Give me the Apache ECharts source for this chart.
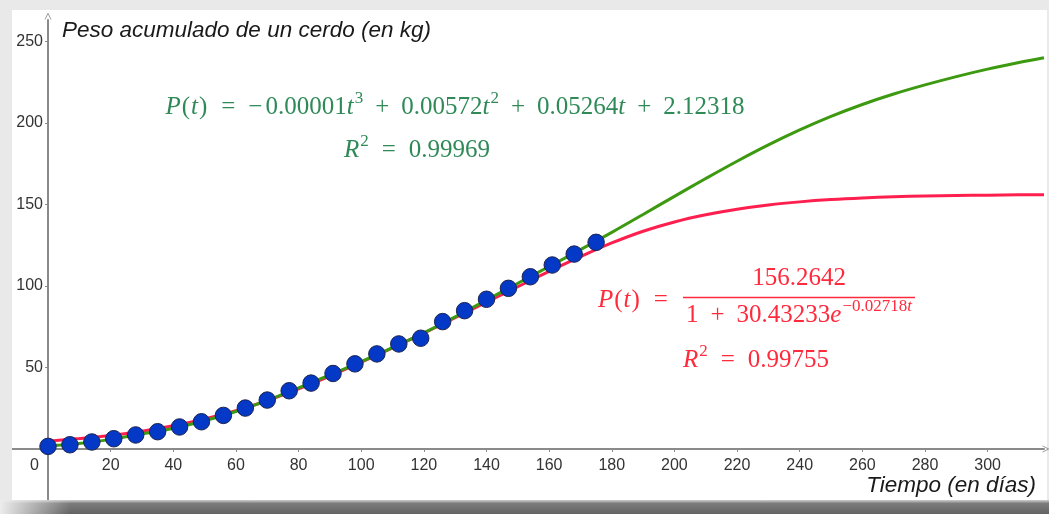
<!DOCTYPE html>
<html>
<head>
<meta charset="utf-8">
<script src="https://cdn.jsdelivr.net/npm/echarts@6/dist/echarts.min.js"></script>
<style>
  html, body { margin: 0; padding: 0; }
  body { width: 1049px; height: 514px; position: relative; overflow: hidden; background: #e9e9e9; }
  #paper { position: absolute; left: 12px; top: 10px; width: 1035px; height: 490px; background: #fff; }
  #shade { position: absolute; left: 0; top: 500px; width: 1049px; height: 14px;
           background: linear-gradient(to bottom, #cfcfcf 0, #7c7c7c 25%, #636363 100%); }
  #shadeFade { position: absolute; left: 0; top: 500px; width: 70px; height: 14px;
               background: linear-gradient(to right, #ececec 0, rgba(236,236,236,0) 100%); }
  #main { position: absolute; left: 0; top: 0; width: 1049px; height: 514px; }
</style>
</head>
<body>
<div id="paper"></div>
<div id="shade"></div>
<div id="shadeFade"></div>
<div id="main"></div>
<script>
// pesos medidos (cada 7 dias)
const days = [0, 7, 14, 21, 28, 35, 42, 49, 56, 63, 70, 77, 84, 91, 98, 105, 112, 119, 126, 133, 140, 147, 154, 161, 168, 175];
const weights = [1.6, 2.6, 4.3, 6.3, 8.6, 10.6, 13.5, 16.7, 20.6, 25.1, 30.0, 35.7, 40.4, 46.3, 52.2, 58.3, 64.4, 67.9, 78.1, 84.8, 91.8, 98.5, 105.6, 112.8, 119.5, 126.7];

// curvas de ajuste
const curveDays = [0, 10, 20, 30, 40, 50, 60, 70, 80, 90, 100, 110, 120, 130, 140, 150, 160, 170, 180, 190, 200, 210, 220, 230, 240, 250, 260, 270, 280, 290, 300, 310, 318];
const cubicFit = [1.9, 3.4, 5.9, 9.2, 12.7, 17.3, 23.0, 29.8, 37.5, 45.4, 53.6, 62.2, 71.2, 81.0, 91.3, 101.6, 111.9, 122.2, 132.8, 143.8, 154.9, 165.8, 176.4, 186.4, 195.6, 203.9, 211.2, 217.6, 223.2, 228.3, 232.9, 236.9, 239.8];
const logisticFit = [4.8, 6.4, 8.3, 10.9, 14.2, 18.4, 23.5, 29.6, 36.8, 44.7, 53.2, 62.0, 71.0, 80.5, 90.0, 99.5, 108.9, 117.9, 126.3, 133.5, 139.2, 143.6, 147.0, 149.6, 151.5, 152.9, 153.9, 154.6, 155.1, 155.4, 155.6, 155.8, 155.9];

const xTicks = [0, 20, 40, 60, 80, 100, 120, 140, 160, 180, 200, 220, 240, 260, 280, 300];
const yTicks = [50, 100, 150, 200, 250];

const axisGray = '#8a8a8a';
const eqGreen = '#2f8a58';
const eqRed = '#ff2a3c';
const chevron = 'path://M0,10 L5,0 L10,10 L8.8,10 L5,2.6 L1.2,10 Z';

function mathRich(color) {
    const base = { fontFamily: 'Liberation Serif', fontSize: 25, fill: color, lineHeight: 34, verticalAlign: 'middle' };
    const sup = { fontFamily: 'Liberation Serif', fontSize: 17, fill: color, lineHeight: 24, verticalAlign: 'top' };
    return {
        n: base,
        i: Object.assign({}, base, { fontStyle: 'italic' }),
        p: Object.assign({}, base, { padding: [0, 1, 0, 1] }),
        m: Object.assign({}, base, { padding: [0, 3, 0, 0] }),
        eq: Object.assign({}, base, { padding: [0, 13, 0, 13] }),
        op: Object.assign({}, base, { padding: [0, 12, 0, 12] }),
        s: Object.assign({}, sup, { padding: [0, 0, 0, 1] }),
        si: Object.assign({}, sup, { fontStyle: 'italic' })
    };
}

const chart = echarts.init(document.getElementById('main'), null, { renderer: 'canvas' });

// el eje x empieza en x=12 y el eje y baja hasta y=500 en el original
const x0 = 48, y0 = 449;

const option = {
    animation: false,
    grid: { left: x0, right: 5, top: 20, bottom: 514 - y0, containLabel: false, outerBoundsMode: 'none' },
    xAxis: {
        type: 'value',
        min: 0,
        max: 318,
        splitLine: { show: false },
        axisLine: {
            lineStyle: { color: axisGray, width: 2 },
            symbol: ['none', chevron],
            symbolSize: [11, 7],
            symbolOffset: [0, 2]
        },
        axisTick: { show: true, customValues: xTicks.filter(v => v > 0), length: 3, lineStyle: { color: axisGray } },
        axisLabel: {
            customValues: xTicks,
            margin: 9,
            fontSize: 16,
            fontFamily: 'Liberation Sans',
            color: '#333',
            formatter: v => v === 0 ? '{z|0}' : String(v),
            rich: { z: { fontSize: 16, fontFamily: 'Liberation Sans', color: '#333', padding: [0, 27, 0, 0] } }
        }
    },
    yAxis: {
        type: 'value',
        min: 0,
        max: 263,
        splitLine: { show: false },
        axisLine: {
            lineStyle: { color: axisGray, width: 2 },
            symbol: ['none', chevron],
            symbolSize: [11, 7],
            symbolOffset: [0, 4]
        },
        axisTick: { show: true, customValues: yTicks, length: 3, lineStyle: { color: axisGray } },
        axisLabel: {
            customValues: yTicks,
            margin: 5,
            fontSize: 16,
            fontFamily: 'Liberation Sans',
            color: '#333'
        }
    },
    series: [
        {
            name: 'logistica',
            type: 'line',
            data: curveDays.map((d, i) => [d, logisticFit[i]]),
            smooth: 0.35,
            showSymbol: false,
            lineStyle: { color: '#ff1f4e', width: 3 },
            z: 2
        },
        {
            name: 'cubica',
            type: 'line',
            data: curveDays.map((d, i) => [d, cubicFit[i]]),
            smooth: 0.35,
            showSymbol: false,
            lineStyle: { color: '#3d9a10', width: 3 },
            z: 3
        },
        {
            name: 'peso',
            type: 'scatter',
            data: days.map((d, i) => [d, weights[i]]),
            symbolSize: 16.5,
            clip: false,
            itemStyle: { color: '#0438c6', borderColor: '#1c2450', borderWidth: 1, opacity: 1 },
            z: 5
        }
    ],
    graphic: [
        // prolongaciones de los ejes fuera del cuadrante
        {
            type: 'line', z: 1,
            shape: { x1: 12, y1: y0, x2: x0, y2: y0 },
            style: { stroke: axisGray, lineWidth: 2 }
        },
        {
            type: 'line', z: 1,
            shape: { x1: x0, y1: y0, x2: x0, y2: 500 },
            style: { stroke: axisGray, lineWidth: 2 }
        },
        {
            type: 'text',
            style: { text: 'Peso acumulado de un cerdo (en kg)', x: 62, y: 31, align: 'left', verticalAlign: 'middle',
                     fontFamily: 'Liberation Sans', fontStyle: 'italic', fontSize: 22.5, fill: '#1a1a1a' }
        },
        {
            type: 'text',
            style: { text: 'Tiempo (en días)', x: 1036, y: 486, align: 'right', verticalAlign: 'middle',
                     fontFamily: 'Liberation Sans', fontStyle: 'italic', fontSize: 22.5, fill: '#1a1a1a' }
        },
        {
            type: 'text',
            style: {
                text: '{i|P}{p|(}{i|t}{p|)}{eq|=}{m|−}{n|0.00001}{i|t}{s|3}{op|+}{n|0.00572}{i|t}{s|2}{op|+}{n|0.05264}{i|t}{op|+}{n|2.12318}',
                rich: mathRich(eqGreen), x: 455, y: 107, align: 'center', verticalAlign: 'middle'
            }
        },
        {
            type: 'text',
            style: { text: '{i|R}{s|2}{eq|=}{n|0.99969}', rich: mathRich(eqGreen), x: 417, y: 150, align: 'center', verticalAlign: 'middle' }
        },
        {
            type: 'text',
            style: { text: '{i|P}{p|(}{i|t}{p|)}{eq|=}', rich: mathRich(eqRed), x: 598, y: 300, align: 'left', verticalAlign: 'middle' }
        },
        {
            type: 'text',
            style: { text: '{n|156.2642}', rich: mathRich(eqRed), x: 799, y: 278, align: 'center', verticalAlign: 'middle' }
        },
        {
            type: 'line',
            shape: { x1: 683, y1: 297.5, x2: 915, y2: 297.5 },
            style: { stroke: eqRed, lineWidth: 1.5 }
        },
        {
            type: 'text',
            style: { text: '{n|1}{op|+}{n|30.43233}{i|e}{s|−0.02718}{si|t}', rich: mathRich(eqRed), x: 799, y: 315, align: 'center', verticalAlign: 'middle' }
        },
        {
            type: 'text',
            style: { text: '{i|R}{s|2}{eq|=}{n|0.99755}', rich: mathRich(eqRed), x: 756, y: 360, align: 'center', verticalAlign: 'middle' }
        }
    ]
};

chart.setOption(option);
</script>
</body>
</html>
